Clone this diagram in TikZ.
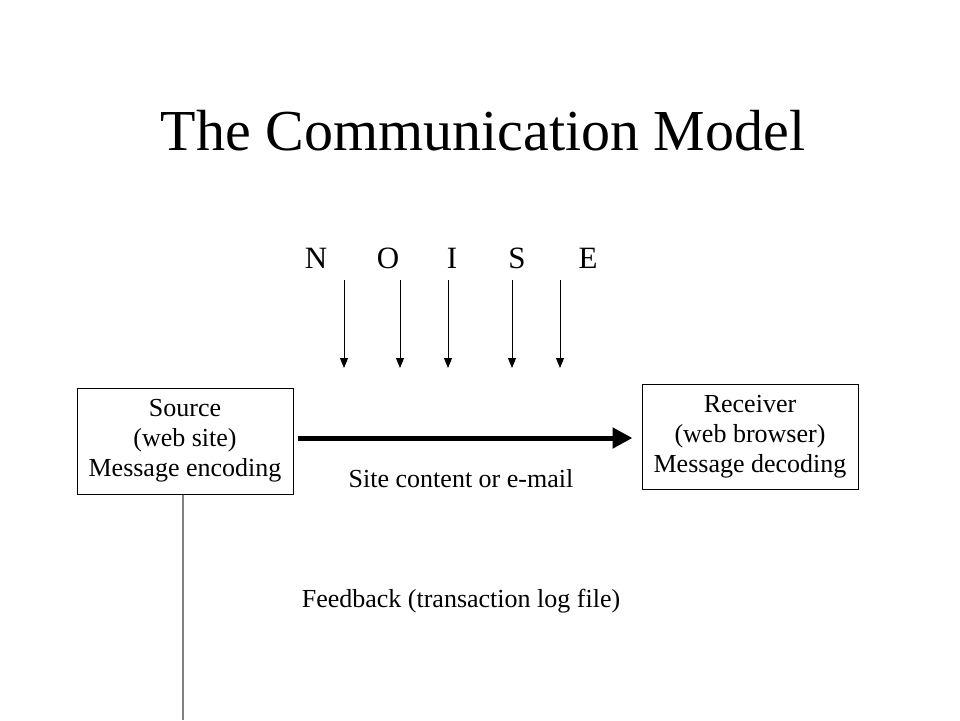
\documentclass[tikz,border=0pt]{standalone}
\usepackage{fontspec}
\setmainfont{Liberation Serif}
\usepackage{xcolor}
\usepackage{tikz}
\usetikzlibrary{arrows.meta, positioning}
\definecolor{feedgray}{HTML}{808080}

\tikzset{
    partybox/.style={draw, line width=1pt, minimum width=216pt, minimum height=106pt, align=center,
        font=\fontsize{26}{30}\selectfont},
    plainlabel/.style={anchor=base, font=\fontsize{26}{30}\selectfont},
    noiseletter/.style={anchor=base, font=\fontsize{31}{34}\selectfont},
    noisearrow/.style={line width=1pt, -{Triangle[length=10pt,width=8pt]}},
    mainarrow/.style={line width=5pt, -{Triangle[length=20pt,width=20pt]}}
}

\begin{document}
\begin{tikzpicture}[x=1pt, y=-1pt]
\useasboundingbox (0,0) rectangle (960,720);

% title
\node[anchor=base, font=\fontsize{58}{62}\selectfont] (title) at (483,150) {The Communication Model};

% noise
\foreach \ch/\lx in {N/316, O/388, I/452, S/517, E/588}
    \node[noiseletter] (letter\ch) at (\lx,268) {\ch};
\foreach \k/\ax in {1/344, 2/400, 3/448, 4/512, 5/560} {
    \coordinate (noisetop\k) at (\ax,280);
    \coordinate (noisetip\k) at (\ax,368);
    \draw[noisearrow] (noisetop\k) -- (noisetip\k);
}

% source and receiver
\node[partybox] (source) at (185,441) {Source\\(web site)\\Message encoding};
\node[partybox, minimum height=105pt] (receiver) at (750,436.5) {Receiver\\(web browser)\\Message decoding};

\draw[mainarrow, shorten <=4pt, shorten >=9pt] ([yshift=3pt]source.east) -- ([yshift=3pt]source.east -| receiver.west);
\node[plainlabel] (channel) at (461,487) {Site content or e-mail};

% feedback
\node[plainlabel] (feedback) at (461,607) {Feedback (transaction log file)};
\coordinate (feedend) at (183,720);
\draw[feedgray, line width=1.2pt] (source.south -| feedend) -- (feedend);
\end{tikzpicture}
\end{document}
